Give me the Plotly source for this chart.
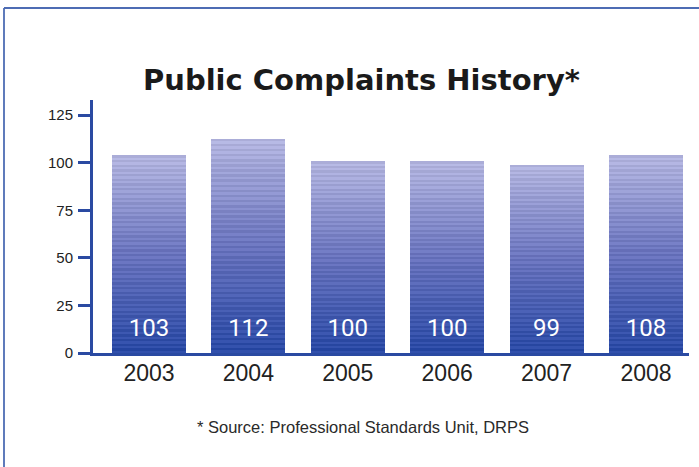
import plotly.graph_objects as go

years = ["2003", "2004", "2005", "2006", "2007", "2008"]
complaints = [103, 112, 100, 100, 99, 108]            # printed values
bar_heights = [104, 112.7, 100.8, 100.8, 98.8, 104]   # drawn heights as read from the artwork
y_ticks = [0, 25, 50, 75, 100, 125]

N = 84
BLUE = "#2a4aa2"

def grad(t):
    stops = [(0.0, (34, 66, 158)), (0.5, (98, 108, 182)), (1.0, (172, 174, 216))]
    for (t0, c0), (t1, c1) in zip(stops[:-1], stops[1:]):
        if t <= t1:
            f = (t - t0) / (t1 - t0)
            return [c0[k] + (c1[k] - c0[k]) * f for k in range(3)]
    return list(stops[-1][1])

fig = go.Figure()
for k in range(N):
    c = grad((k + 0.5) / N)
    if k % 2 == 0:
        c = [min(255, v + 14) for v in c]
    col = "rgb(%d,%d,%d)" % tuple(int(round(v)) for v in c)
    fig.add_trace(go.Bar(
        x=years, y=[h / N for h in bar_heights], width=0.745,
        marker=dict(color=col, line=dict(width=0)),
        hoverinfo="skip", showlegend=False))

fig.add_trace(go.Scatter(
    x=years, y=[12] * len(years), mode="text",
    text=[str(v) for v in complaints],
    textfont=dict(family="Roboto", size=24, color="white"),
    hoverinfo="skip", showlegend=False))

W, H = 699, 467
L, R, T, B = 93, 10, 100, 114
pw, ph = W - L - R, H - T - B

def px(x):
    return (x - L) / pw

def py(y):
    return (H - B - y) / ph

fig.update_layout(
    width=W, height=H, barmode="stack", bargap=0,
    margin=dict(l=L, r=R, t=T, b=B),
    paper_bgcolor="white", plot_bgcolor="white",
    xaxis=dict(type="category", range=[-0.563, 5.433], showline=True,
               linecolor=BLUE, linewidth=3, ticks="", showgrid=False,
               tickfont=dict(family="Liberation Sans", size=23, color="#222222"),
               ticklabelstandoff=-3, fixedrange=True),
    yaxis=dict(range=[0, 133], tickvals=y_ticks, showline=True,
               linecolor=BLUE, linewidth=3, ticks="outside", ticklen=12,
               tickwidth=3, tickcolor=BLUE, showgrid=False, zeroline=False,
               tickfont=dict(family="Liberation Sans", size=15, color="#222222"),
               ticklabelstandoff=2, fixedrange=True),
    shapes=[
        dict(type="line", xref="paper", yref="paper", x0=px(4), x1=px(699),
             y0=py(8), y1=py(8), line=dict(color="#4d6cb4", width=1.8)),
        dict(type="line", xref="paper", yref="paper", x0=px(4), x1=px(4),
             y0=py(8), y1=py(467), line=dict(color="#4d6cb4", width=1.8)),
    ],
    annotations=[
        dict(text="<b>Public Complaints History*</b>", xref="paper", yref="paper",
             x=px(361), y=py(80), showarrow=False, xanchor="center", yanchor="middle",
             font=dict(family="DejaVu Sans", size=29, color="#1a1a1a")),
        dict(text="* Source: Professional Standards Unit, DRPS", xref="paper", yref="paper",
             x=px(363), y=py(427), showarrow=False, xanchor="center", yanchor="middle",
             font=dict(family="Liberation Sans", size=16.5, color="#2a2a2a")),
    ],
)

fig.write_html("out.html", config={"displayModeBar": False},
               post_script="document.body.style.margin='0';")
